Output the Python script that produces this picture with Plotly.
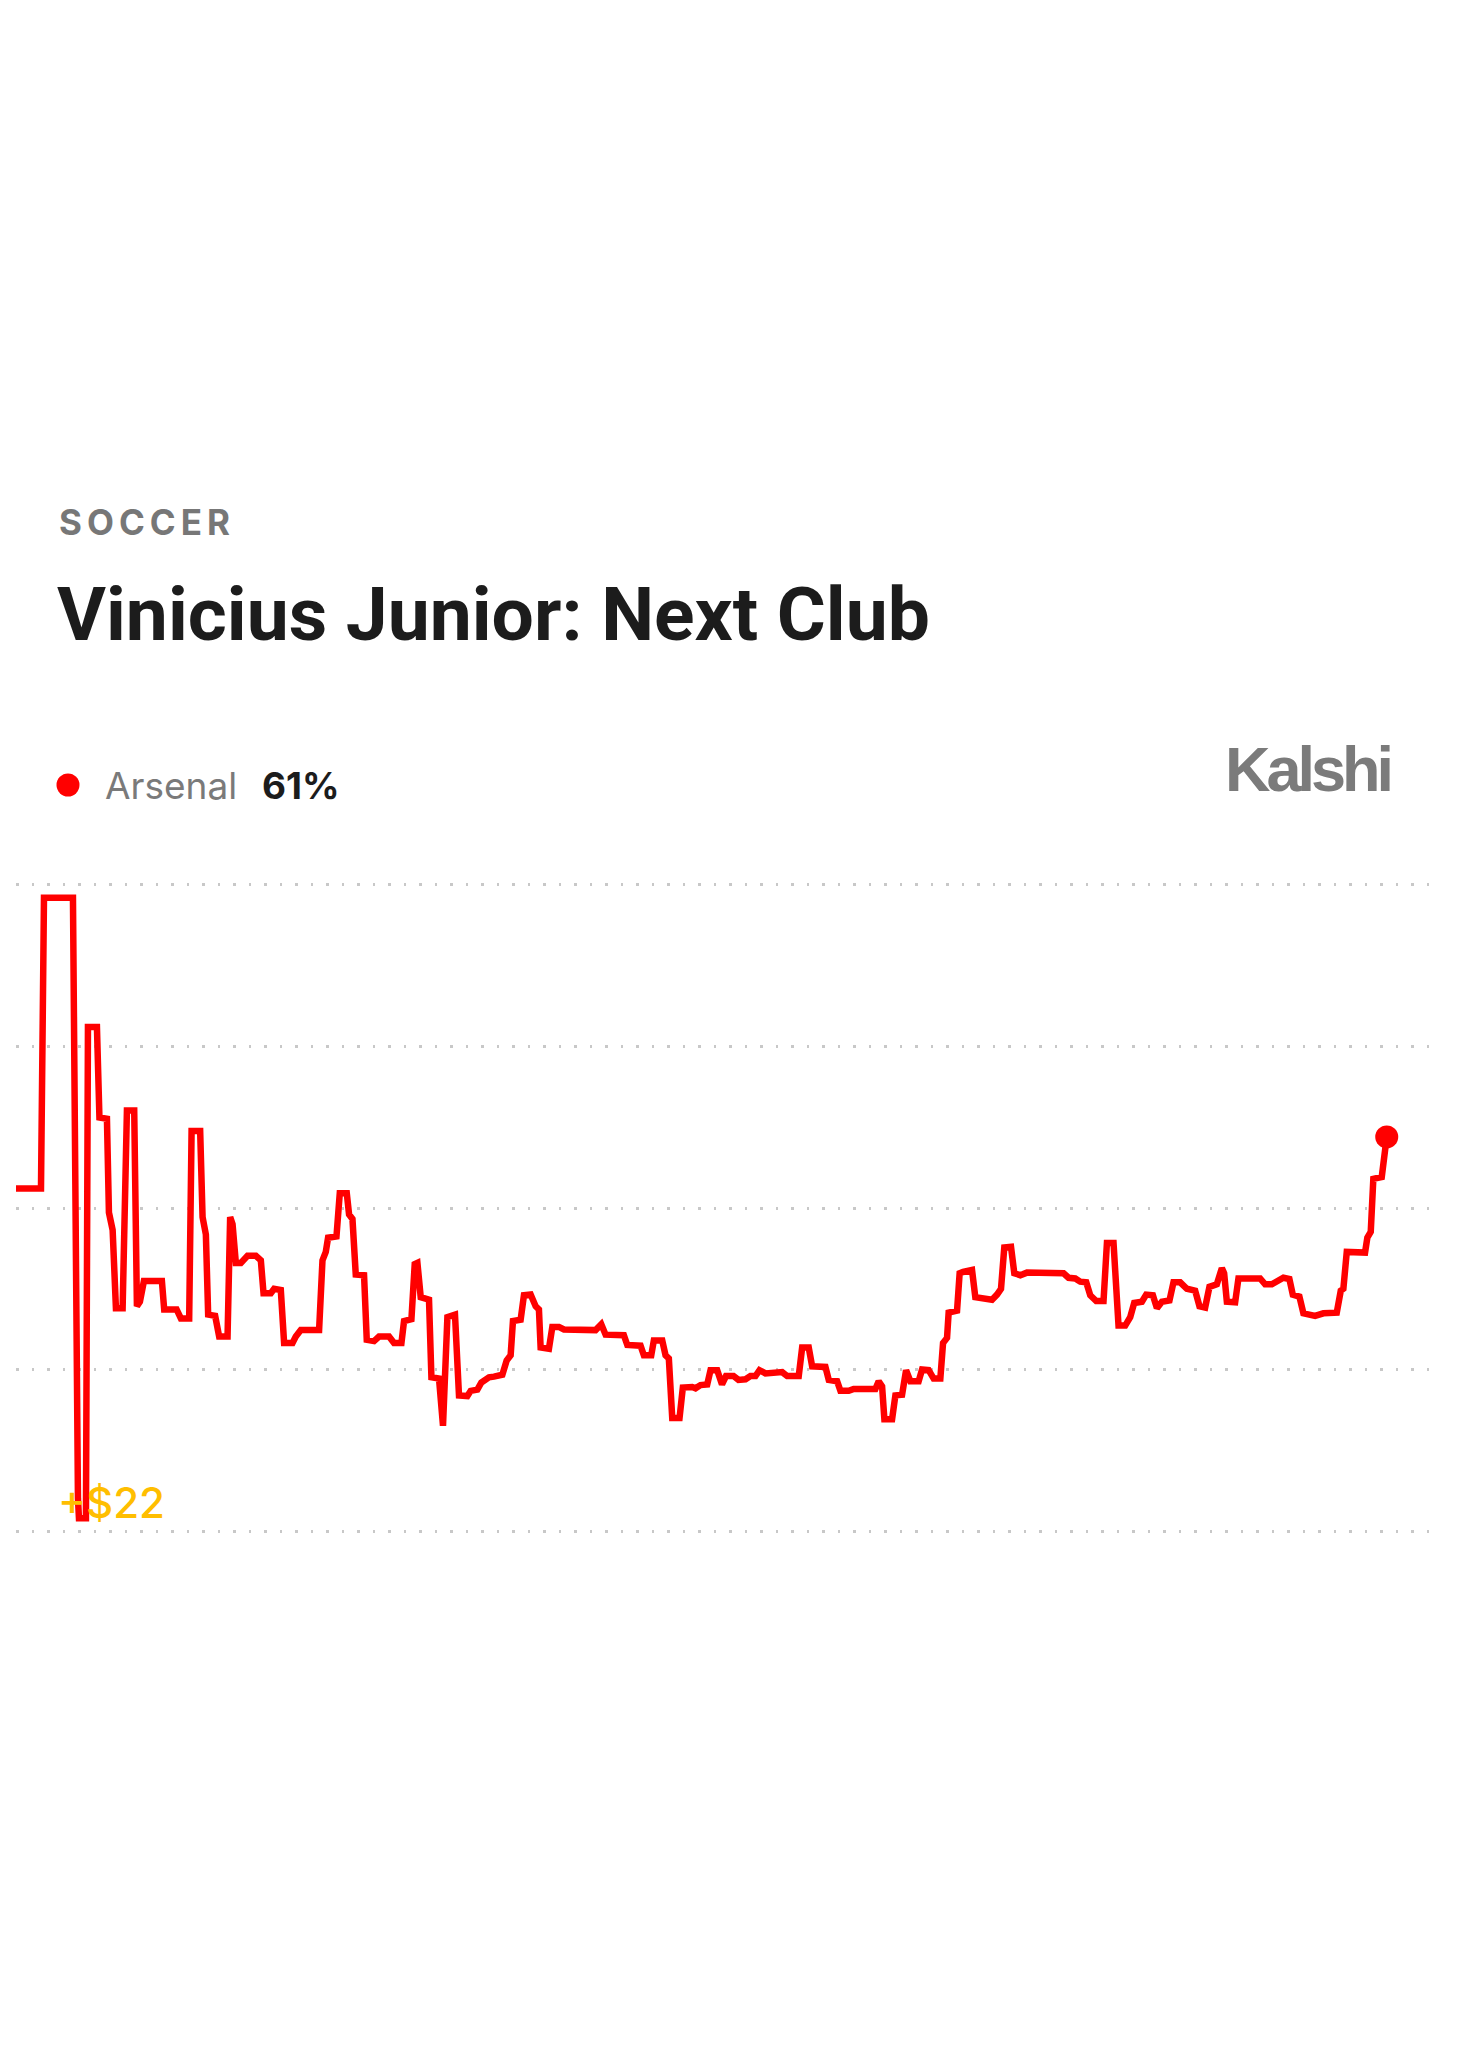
import plotly.graph_objects as go

# ---- data (time position, probability %) ----
t = [-1, 24, 27, 56, 61, 62, 69, 71, 80, 82.5,
     90, 92, 95.7, 99, 105.7, 110, 117.3, 120, 123, 127,
     145, 147.3, 159.7, 164, 172.3, 174.7, 183.3, 185.7, 189, 191.3,
     198.3, 202.3, 210.7, 213.3, 215.7, 219, 224, 230.7, 239, 244,
     246.7, 254, 257.3, 264, 267.3, 275.7, 279, 284, 302.3, 305.7,
     309, 311.3, 319.7, 323, 330, 332.3, 335.7, 339, 347.3, 350,
     357.3, 362.3, 372.3, 377.3, 384.7, 387.3, 394.7, 398, 400.7, 404,
     412.3, 414.7, 422.3, 426.3, 430.7, 438.3, 442.3, 450.7, 454, 460.7,
     464.7, 472.3, 477.3, 485.7, 490, 494, 496.3, 504, 507.3, 514,
     519, 522.3, 524, 532.3, 535.7, 542.3, 547.3, 579, 584.7, 589,
     607.3, 610.7, 624, 627.3, 634.7, 637.3, 645.7, 649, 652.3, 655.7,
     663, 666.3, 675.7, 679, 684, 690.7, 694, 700.7, 705.5, 709.5,
     717, 722, 729, 734, 739, 743, 749, 765.7, 770.7, 782.3,
     785.7, 792.3, 795.7, 809, 812.3, 820.7, 824, 832.3, 837.3, 859,
     862.3, 865.7, 868, 875.7, 879, 885.7, 889.7, 894, 902.3, 905.7,
     912.3, 917.3, 924, 926.7, 930.7, 932.3, 940.7, 943.3, 946.7, 955.7,
     959, 975.7, 980.7, 984.7, 988, 994.7, 998, 1004, 1010.7, 1047.3,
     1052.3, 1059, 1064, 1070, 1074, 1080, 1087.3, 1090.7, 1097.3, 1102.3,
     1109, 1114, 1118, 1125.7, 1130, 1136.7, 1140.7, 1145.7, 1153.3, 1157.3,
     1164, 1170.7, 1179, 1183.3, 1189, 1193.3, 1200.7, 1205.7, 1208, 1210.7,
     1219, 1222.3, 1244, 1249, 1255.7, 1267.3, 1273.3, 1276.7, 1283.3, 1287.3,
     1299, 1307.3, 1320.7, 1324.7, 1327.3, 1330.7, 1349, 1351.3, 1354.7, 1357.3,
     1365.7, 1368.3, 1370.7]
prob = [53, 53, 98, 98, 5, 2, 2, 78, 78, 64,
        63.8, 49.3, 46.6, 34.5, 34.5, 65.1, 65.1, 34.8, 35.5, 38.7,
        38.7, 34.3, 34.3, 32.9, 32.9, 61.9, 61.9, 48.6, 45.9, 33.5,
        33.3, 30.1, 30.1, 48.6, 47.5, 41.5, 41.5, 42.6, 42.6, 41.9,
        36.8, 36.8, 37.5, 37.3, 29.1, 29.1, 30.1, 31.1, 31.1, 41.9,
        43.2, 45.4, 45.6, 52.3, 52.3, 49, 48.3, 39.7, 39.6, 29.6,
        29.4, 30.1, 30.1, 29.1, 29.1, 32.5, 32.8, 41.3, 41.5, 36.2,
        35.8, 23.8, 23.6, 16.3, 33.1, 33.5, 21, 20.9, 21.7, 21.9,
        23, 23.8, 23.9, 24.2, 26.4, 27.2, 32.5, 32.7, 36.5, 36.6,
        34.8, 34.3, 28.4, 28.2, 31.6, 31.6, 31.2, 31.1, 32, 30.4,
        30.3, 28.8, 28.7, 27.2, 27.2, 29.5, 29.5, 27.2, 26.7, 17.5,
        17.5, 22.2, 22.3, 22.1, 22.6, 22.7, 24.9, 24.9, 22.7, 24,
        24, 23.4, 23.5, 24, 24, 24.9, 24.4, 24.6, 24, 24,
        28.4, 28.4, 25.5, 25.4, 23.4, 23.2, 21.7, 21.7, 22, 22,
        23.2, 22.4, 17.3, 17.3, 21, 21.1, 24.9, 23.2, 23.2, 25,
        24.9, 23.6, 23.6, 29.1, 29.9, 33.8, 34.1, 39.9, 40.1, 40.4,
        36.2, 35.8, 36.6, 37.5, 43.9, 44, 39.9, 39.6, 40, 39.9,
        39.2, 39.1, 38.6, 38.5, 36.5, 35.6, 35.6, 44.6, 44.6, 31.8,
        31.8, 33.1, 35.3, 35.5, 36.6, 36.5, 34.5, 35.5, 35.7, 38.5,
        38.5, 37.5, 37.2, 34.8, 34.6, 37.8, 38.2, 40.7, 39.9, 35.5,
        35.4, 39.1, 39.1, 38.2, 38.2, 39.2, 39, 36.6, 36.3, 33.7,
        33.3, 33.7, 33.8, 37.2, 37.5, 43.2, 43.1, 45.4, 46.3, 54.5,
        54.8, 59.4, 61]
assert len(t) == len(prob)
grid_vals = [0, 25, 50, 75, 100]

category = "SOCCER"
title = "Vinicius Junior: Next Club"
outcome = "Arsenal"
current = "61%"
brand = "Kalshi"
payout = "+$22"

RED = "#FF0000"

W, H = 1447, 2032
L, R, T, B = 8, 18, 864, 496
PW, PH = W - L - R, H - T - B


def px(page_x):
    return (page_x - 8 - L) / PW


def py(page_y):
    return (H - B - (page_y - 8)) / PH


fig = go.Figure()
fig.add_trace(go.Scatter(x=t, y=prob, mode="lines", line=dict(color=RED, width=6.5),
                         hoverinfo="skip", showlegend=False))
fig.add_trace(go.Scatter(x=[t[-1]], y=[prob[-1]], mode="markers",
                         marker=dict(color=RED, size=23), hoverinfo="skip", showlegend=False))

fig.update_xaxes(range=[-1, 1421], visible=False, showgrid=False, zeroline=False)
fig.update_yaxes(range=[-2, 102], tickvals=grid_vals, showticklabels=False, showgrid=True,
                 gridcolor="#c8c8c8", gridwidth=2.5, griddash="2.5px,13px", zeroline=False, showline=False)

ann = [
    dict(text=f"<b><span style='letter-spacing:5px'>{category}</span></b>", x=px(57), y=py(522),
         font=dict(family="Inter, Roboto, sans-serif", size=35, color="#777777")),
    dict(text=f"<b>{title}</b>", x=px(55), y=py(614),
         font=dict(family="Roboto, sans-serif", size=75, color="#1c1c1c")),
    dict(text=outcome, x=px(103), y=py(785),
         font=dict(family="Inter, Roboto, sans-serif", size=37, color="#7a7a7a")),
    dict(text=f"<b>{current}</b>", x=px(260), y=py(785),
         font=dict(family="Inter, Roboto, sans-serif", size=37, color="#1c1c1c")),
    dict(text=f"<b><span style='letter-spacing:-4px'>{brand}</span></b>", x=px(1393), y=py(769), xanchor="right",
         font=dict(family="Liberation Sans, Arial, sans-serif", size=63, color="#7b7b7b")),
    dict(text=payout, x=px(56), y=py(1502),
         font=dict(family="Inter, Roboto, sans-serif", size=42, color="#FFBE00", weight=500)),
]
for a in ann:
    a.setdefault("xanchor", "left")
    a.update(xref="paper", yref="paper", yanchor="middle", showarrow=False)
fig.update_layout(annotations=ann)

fig.add_shape(type="circle", xref="paper", yref="paper", xsizemode="pixel", ysizemode="pixel",
              xanchor=px(68), yanchor=py(785), x0=-11.5, x1=11.5, y0=-11.5, y1=11.5,
              fillcolor=RED, line=dict(width=0))

fig.update_layout(width=W, height=H, margin=dict(l=L, r=R, t=T, b=B),
                  paper_bgcolor="white", plot_bgcolor="white", showlegend=False)

fig.write_html("out.html")
